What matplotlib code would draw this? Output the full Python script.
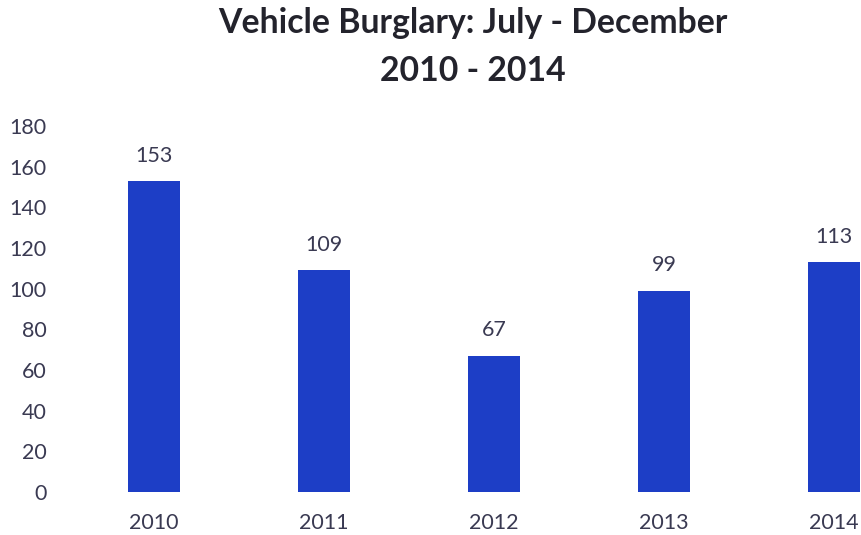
import matplotlib
matplotlib.use("Agg")
import matplotlib.pyplot as plt

years = ["2010", "2011", "2012", "2013", "2014"]
burglaries = [153, 109, 67, 99, 113]
yticks = list(range(0, 181, 20))

bar_color = "#1d3ec6"
text_color = "#3a3a52"

plt.rcParams["font.family"] = ["Lato", "DejaVu Sans"]

fig = plt.figure(figsize=(8.62, 5.35), dpi=100)
ax = fig.add_axes([69 / 862, 43 / 535, 1 - 69 / 862, 366 / 535])

x = list(range(len(years)))
bars = ax.bar(x, burglaries, width=0.306, color=bar_color)

# value labels above each bar
for xi, v in zip(x, burglaries):
    ax.annotate(str(v), (xi, v), xytext=(0, 11), textcoords="offset points",
                ha="center", va="bottom", fontsize=15.5, color=text_color)

ax.set_xlim(-0.5, 4.165)
ax.set_ylim(0, 180)
ax.set_yticks(yticks)
ax.set_xticks(x)
ax.set_xticklabels(years)
ax.tick_params(axis="both", length=0, labelsize=15.5, labelcolor=text_color)
ax.tick_params(axis="x", pad=15)
ax.tick_params(axis="y", pad=16)
for s in ax.spines.values():
    s.set_visible(False)

fig.text(0.548, 1 - 23 / 535, "Vehicle Burglary: July - December", ha="center", va="center",
         fontsize=24.3, fontweight="bold", color="#23232c")
fig.text(0.548, 1 - 71 / 535, "2010 - 2014", ha="center", va="center",
         fontsize=24.3, fontweight="bold", color="#23232c")

fig.savefig("out.png", dpi=100, facecolor="white")
